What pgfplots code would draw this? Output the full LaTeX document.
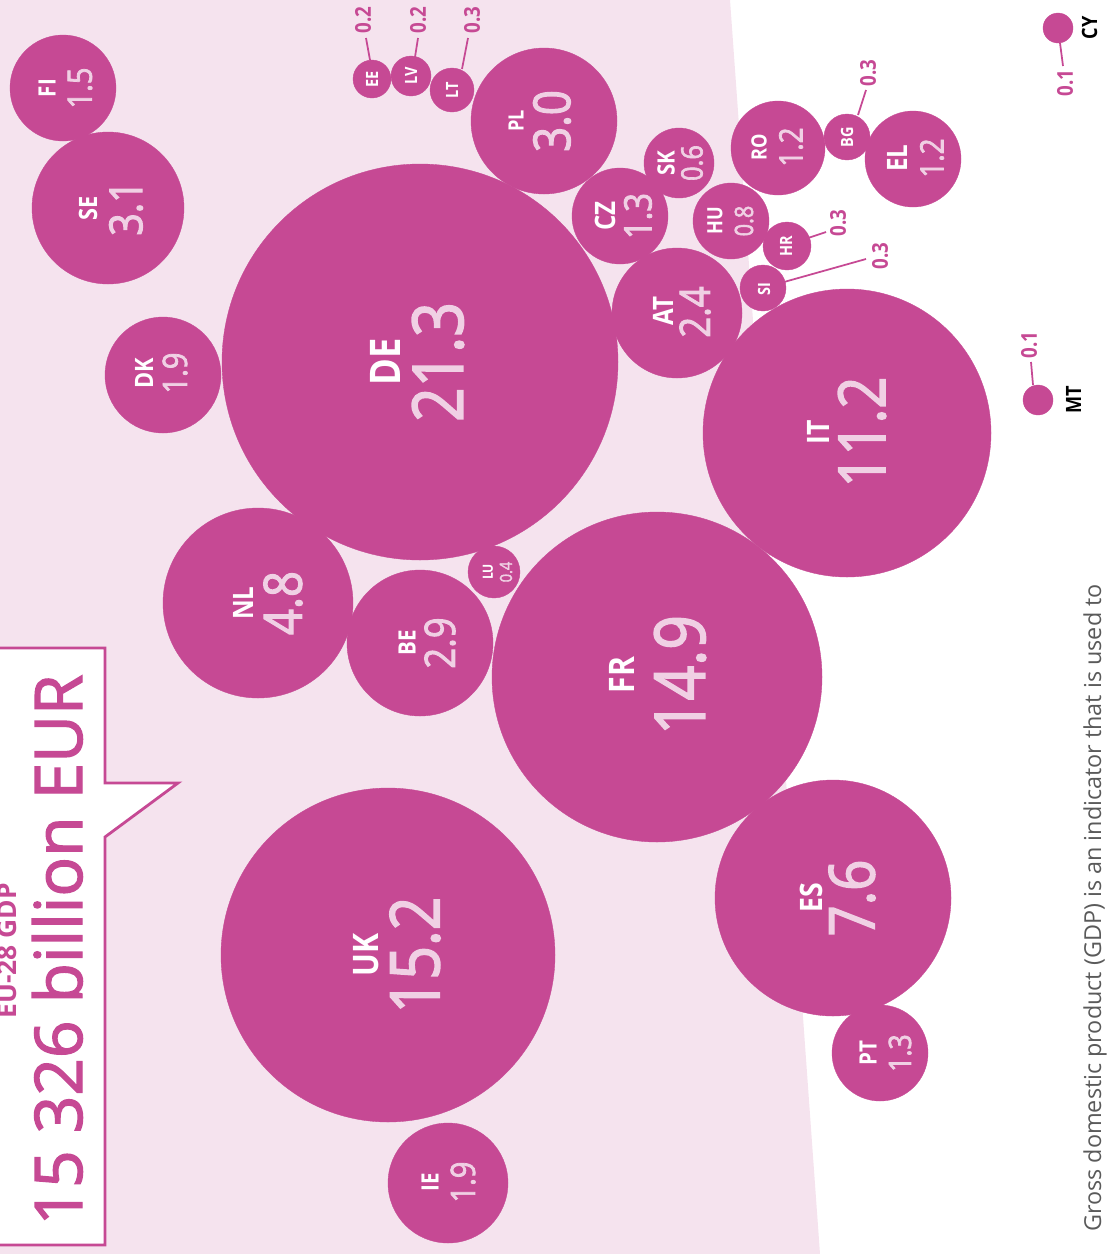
\documentclass[border=0pt]{standalone}
\usepackage{pgfplots}
\usepackage{pgfplotstable}
\pgfplotsset{compat=1.18}
\usepackage{fontspec}
\setmainfont{Open Sans}
\newfontfamily\condfont[FakeStretch=0.86]{Open Sans}
\newfontfamily\valfont[FakeStretch=0.86, FakeBold=2.2]{Open Sans}
\newfontfamily\bigfont[FakeBold=2]{Open Sans}
\definecolor{bub}{RGB}{198,73,148}
\definecolor{bgpink}{RGB}{245,227,238}
\definecolor{valpink}{RGB}{240,208,228}
\definecolor{foot}{RGB}{90,90,90}

\pgfplotstableread{
name x y r
FI 63 88 53
SE 108 208 76
DK 163 375 58
DE 420 362 198
NL 258 603 95
BE 420 643 73
LU 494 572 26
FR 657 677 165
UK 388 955 167
IE 448 1183 60
ES 833 898 118
PT 880 1053 48
IT 847 433 144
AT 677 313 65
CZ 620 216 48
PL 544 121 73
SK 679 163 35
HU 731 221 38
HR 787 246 24
SI 763 288 23
RO 778 148 47
BG 847 137 23
EL 913 159 48
EE 372 79 19
LV 411 76 20
LT 452 90 22
CY 1058 28 15
MT 1038 400 15
}\tabbub

\pgfplotstableread{
name x y fs
FI 47 88 6.8
SE 88 208 7.2
DK 144 373 7.2
DE 385 362 12
NL 243 603 8
BE 407 643 6.8
LU 488 572 4
FR 622 675 10
UK 366 955 10
IE 430 1182 6.8
ES 811 898 8.8
PT 868 1053 6.8
IT 818 432 8.8
AT 663 311 8
CZ 605 216 8
PL 516 121 6
SK 666 163 6.8
HU 715 221 6
RO 759 147 6
EL 897 158 8
HR 786 246 4.8
SI 764 289 4.8
BG 847 137 4.8
EE 372 79 4.8
LV 411 76 4.8
LT 452 90 4.8
}\tabnam

\pgfplotstableread{
val x y fs
1.5 80 88 9.6
3.1 126 208 13
1.9 175 373 9.6
21.3 438 362 20
4.8 283 603 15
2.9 440 643 12
0.4 506 572 4.8
14.9 680 675 20
15.2 415 955 19.5
1.9 463 1182 9.6
7.6 852 898 18
1.3 900 1053 8.8
11.2 862 432 18.5
2.4 695 312 12
1.3 638 216 10.8
3.0 552 121 14.5
0.6 692 163 8.4
0.8 744 221 7.2
1.2 791 147 9.2
1.2 932 158 9.2
}\tabval

\pgfplotstableread{
val x y
0.2 363 20
0.2 418 20
0.3 472 20
0.3 868 73
0.3 838 223
0.3 880 256
0.1 1065 83
0.1 1029 345
}\tabsml

\begin{document}
\begin{tikzpicture}
\begin{axis}[
  scale only axis, width=316.97pt, height=356.80pt,
  xmin=0, xmax=1114, ymin=0, ymax=1254, y dir=reverse,
  hide axis, clip=false,
]
% background region
\addplot[fill=bgpink, draw=none] coordinates {(0,0) (730,0) (820,1254) (0,1254)} -- cycle;
% callout box
\addplot[fill=white, draw=bub, line width=0.8pt] coordinates {(-10,648) (105,648) (105,783) (178,783) (105,837) (105,1245) (-10,1245)} -- cycle;
% bubbles
\addplot[scatter, only marks, mark=*,
  scatter/use mapped color={draw=bub, fill=bub},
  mark options={line width=0.1pt},
  visualization depends on={\thisrow{r} \as \rad},
  scatter/@pre marker code/.append style={/tikz/mark size=\rad*0.28453pt}]
  table[x=x, y=y] {\tabbub};
% leader lines
\addplot[bub, line width=0.5pt] coordinates {(370,60) (366,38)};
\addplot[bub, line width=0.5pt] coordinates {(415,57) (418,38)};
\addplot[bub, line width=0.5pt] coordinates {(462,69) (468,38)};
\addplot[bub, line width=0.5pt] coordinates {(858,115) (866,90)};
\addplot[bub, line width=0.5pt] coordinates {(808,238) (826,232)};
\addplot[bub, line width=0.5pt] coordinates {(784,282) (866,259)};
\addplot[bub, line width=0.5pt] coordinates {(1060,43) (1063,66)};
\addplot[bub, line width=0.5pt] coordinates {(1033,385) (1031,362)};
% names
\addplot[only marks, mark=none, point meta=explicit symbolic,
  visualization depends on={\thisrow{fs} \as \fsz},
  nodes near coords={\pgfplotspointmeta},
  every node near coord/.append style={rotate=90, anchor=center, inner sep=0pt, text=white,
     font=\condfont\bfseries\fontsize{10}{10}\selectfont, scale=\fsz/10}]
  table[x=x, y=y, meta=name] {\tabnam};
% values
\addplot[only marks, mark=none, point meta=explicit symbolic,
  visualization depends on={\thisrow{fs} \as \fsz},
  nodes near coords={\pgfplotspointmeta},
  every node near coord/.append style={rotate=90, anchor=center, inner sep=0pt, text=valpink,
     font=\valfont\fontsize{10}{10}\selectfont, scale=\fsz/10}]
  table[x=x, y=y, meta=val] {\tabval};
% small values
\addplot[only marks, mark=none, point meta=explicit symbolic,
  nodes near coords={\pgfplotspointmeta},
  every node near coord/.append style={rotate=90, anchor=center, inner sep=0pt, text=bub,
     font=\condfont\bfseries\fontsize{6.2}{6.2}\selectfont}]
  table[x=x, y=y, meta=val] {\tabsml};
% texts
\node[rotate=90, anchor=base, inner sep=0pt, text=black, font=\condfont\bfseries\fontsize{6}{6}\selectfont] at (axis cs:1097,28) {CY};
\node[rotate=90, anchor=base, inner sep=0pt, text=black, font=\condfont\bfseries\fontsize{6}{6}\selectfont] at (axis cs:1081,400) {MT};
\node[rotate=90, anchor=base, inner sep=0pt, text=bub, font=\bigfont\fontsize{18.7}{20}\selectfont] at (axis cs:82,950) {15 326 billion EUR};
\node[rotate=90, anchor=base, inner sep=0pt, text=bub, font=\bfseries\fontsize{7.5}{8}\selectfont] at (axis cs:16,951) {EU-28 GDP};
\node[rotate=90, anchor=base, inner sep=0pt, text=foot, font=\fontsize{6.65}{7}\selectfont] at (axis cs:1101,908) {Gross domestic product (GDP) is an indicator that is used to};
\end{axis}
\pgfresetboundingbox
\useasboundingbox (current axis.south west) rectangle (current axis.north east);
\end{tikzpicture}
\end{document}
